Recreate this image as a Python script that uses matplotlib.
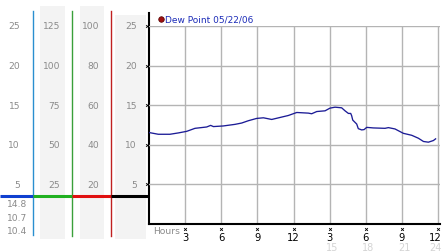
import matplotlib
matplotlib.use("Agg")
import matplotlib.pyplot as plt
import matplotlib.transforms as mtransforms

# ---- data ----
hours = [0, 0.77, 1.74, 2.44, 3.13, 3.82, 4.79, 5.12, 5.35, 6.17, 7.14, 7.7, 8.25,
         8.94, 9.5, 10.19, 10.88, 11.57, 12.27, 13.23, 13.51, 13.93, 14.62, 15.03,
         15.45, 16.0, 16.28, 16.56, 16.75, 16.83, 16.92, 17.25, 17.38, 17.66, 17.86,
         18.08, 18.63, 19.6, 19.88, 20.43, 21.12, 21.82, 22.37, 22.79, 23.2, 23.62, 23.8]
dew_point = [11.55, 11.33, 11.33, 11.5, 11.7, 12.08, 12.25, 12.45, 12.3, 12.38, 12.58,
             12.75, 13.04, 13.33, 13.41, 13.2, 13.45, 13.7, 14.08, 14.0, 13.92, 14.2,
             14.29, 14.63, 14.75, 14.67, 14.29, 13.96, 13.96, 13.67, 13.12, 12.62, 12.04,
             11.88, 11.92, 12.2, 12.13, 12.08, 12.17, 12.0, 11.45, 11.2, 10.83, 10.42,
             10.33, 10.54, 10.75]
series_label = "Dew Point 05/22/06"

y_ticks = [25, 20, 15, 10, 5]
scale_cols = [
    ["25", "20", "15", "10", "5"],
    ["125", "100", "75", "50", "25"],
    ["100", "80", "60", "40", "20"],
    ["25", "20", "15", "10", "5"],
]
stats_labels = ["14.8", "10.7", "10.4"]

x_ticks = [3, 6, 9, 12, 15, 18, 21, 24]
x_labels = ["3", "6", "9", "12", "3", "6", "9", "12"]
x_labels2 = ["", "", "", "", "15", "18", "21", "24"]

# ---- figure ----
W, H = 442, 253
fig = plt.figure(figsize=(W / 100, H / 100), dpi=100)
fig.patch.set_facecolor("white")

# overlay in pixel coordinates
ov = fig.add_axes([0, 0, 1, 1], zorder=0)
ov.set_xlim(0, W)
ov.set_ylim(H, 0)
ov.axis("off")

# main plot
left, right, top, bottom = 149, 440, 27, 225
ax = fig.add_axes([left / W, 1 - bottom / H, (right - left) / W, (bottom - top) / H], zorder=1)
ax.patch.set_alpha(0)
ax.set_xlim(0, 24 * (right - left) / (438 - left))
ax.set_ylim(0, 25)
for s in ["top", "right", "left"]:
    ax.spines[s].set_visible(False)
ax.spines["bottom"].set_color("black")
ax.spines["bottom"].set_linewidth(1.5)
ax.set_xticks(x_ticks)
ax.set_yticks(y_ticks)
ax.tick_params(length=0, labelbottom=False, labelleft=False)
ax.grid(True, color="#b4b4b4", linewidth=1.0)
ax.set_axisbelow(True)
ax.plot(hours, dew_point, color="#1c1c96", linewidth=0.95, zorder=3)

# shaded columns
gray = "#f3f3f3"
ov.fill_between([40, 65], 7, 240, color=gray, lw=0)
ov.fill_between([80, 104], 7, 240, color=gray, lw=0)
ov.fill_between([115, 146], 16, 240, color=gray, lw=0)

# vertical coloured lines
ov.plot([33, 33], [12, 236], color="#2a8fd0", lw=1.0)
ov.plot([72, 72], [12, 237], color="#3aa03a", lw=1.0)
ov.plot([111, 111], [12, 237], color="#c02020", lw=1.0)
ov.plot([149, 149], [14, 225], color="black", lw=1.5)

# horizontal coloured bar
ov.plot([0, 33], [197, 197], color="#1040d0", lw=2.2, solid_capstyle="butt")
ov.plot([33, 72], [197, 197], color="#20b020", lw=2.2, solid_capstyle="butt")
ov.plot([72, 111], [197, 197], color="#e01010", lw=2.2, solid_capstyle="butt")
ov.plot([111, 149], [197, 197], color="black", lw=2.2, solid_capstyle="butt")

# scale labels
tr_y = mtransforms.blended_transform_factory(ov.transData, ax.transData)
col_right = [20, 60, 99, 137]
for xr, labs in zip(col_right, scale_cols):
    for yv, lab in zip(y_ticks, labs):
        ov.text(xr, yv, lab, transform=tr_y, ha="right", va="center",
                fontsize=6.6, color="#8a8a8a")

# tick marks on left axis
ov.scatter([147] * len(y_ticks), y_ticks, transform=tr_y, marker="x", s=4,
           color="black", linewidths=0.6, zorder=5)

# stats labels
for yp, lab in zip([205, 219, 232], stats_labels):
    ov.text(27, yp, lab, ha="right", va="center", fontsize=6.6, color="#8a8a8a")

# x tick labels
tr_x = mtransforms.blended_transform_factory(ax.transData, ov.transData)
shift_last = mtransforms.ScaledTranslation(-3 / 100, 0, fig.dpi_scale_trans)
for i, (xv, l1, l2) in enumerate(zip(x_ticks, x_labels, x_labels2)):
    tr = tr_x + shift_last if i == len(x_ticks) - 1 else tr_x
    ov.scatter([xv], [230], transform=tr_x, marker="x", s=4, color="black",
               linewidths=0.6, zorder=5)
    ov.text(xv, 238, l1, transform=tr, ha="center", va="center",
            fontsize=7.2, color="black")
    if l2:
        tr2 = tr_x + shift_last if i == len(x_ticks) - 1 else tr_x
        ov.text(xv + (0 if i == len(x_ticks) - 1 else 0.2), 248, l2, transform=tr2,
                ha="center", va="center", fontsize=7.0, color="#d4d4d4")
ov.text(153, 232, "Hours", ha="left", va="center", fontsize=6.6, color="#8a8a8a")

# legend
ov.scatter([161], [20], s=16, color="#a01010", edgecolors="#500000",
           linewidths=0.5, zorder=5)
ov.text(165, 20, series_label, ha="left", va="center", fontsize=6.5, color="#1c2cb8")

fig.savefig("out.png", dpi=100)
